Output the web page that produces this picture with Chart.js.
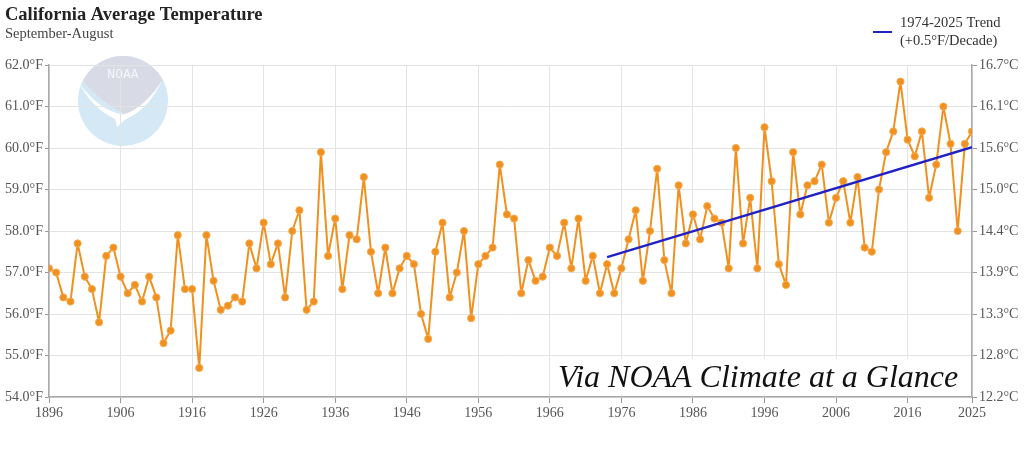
<!DOCTYPE html>
<html>
<head>
<meta charset="utf-8">
<script src="https://cdn.jsdelivr.net/npm/chart.js@4.4.1/dist/chart.umd.min.js"></script>
<style>
  html, body { margin: 0; padding: 0; background: #fff; }
  #wrap { width: 1024px; height: 457px; }
</style>
</head>
<body>
<div id="wrap"><canvas id="tempChart" width="1024" height="457"></canvas></div>
<script>
// annual Sep-Aug average, °F
const firstYear = 1896;
const tempValues = [
  57.1, 57.0, 56.4, 56.3, 57.7, 56.9, 56.6, 55.8, 57.4, 57.6, // 1896-1905
  56.9, 56.5, 56.7, 56.3, 56.9, 56.4, 55.3, 55.6, 57.9, 56.6, // 1906-1915
  56.6, 54.7, 57.9, 56.8, 56.1, 56.2, 56.4, 56.3, 57.7, 57.1, // 1916-1925
  58.2, 57.2, 57.7, 56.4, 58.0, 58.5, 56.1, 56.3, 59.9, 57.4, // 1926-1935
  58.3, 56.6, 57.9, 57.8, 59.3, 57.5, 56.5, 57.6, 56.5, 57.1, // 1936-1945
  57.4, 57.2, 56.0, 55.4, 57.5, 58.2, 56.4, 57.0, 58.0, 55.9, // 1946-1955
  57.2, 57.4, 57.6, 59.6, 58.4, 58.3, 56.5, 57.3, 56.8, 56.9, // 1956-1965
  57.6, 57.4, 58.2, 57.1, 58.3, 56.8, 57.4, 56.5, 57.2, 56.5, // 1966-1975
  57.1, 57.8, 58.5, 56.8, 58.0, 59.5, 57.3, 56.5, 59.1, 57.7, // 1976-1985
  58.4, 57.8, 58.6, 58.3, 58.2, 57.1, 60.0, 57.7, 58.8, 57.1, // 1986-1995
  60.5, 59.2, 57.2, 56.7, 59.9, 58.4, 59.1, 59.2, 59.6, 58.2, // 1996-2005
  58.8, 59.2, 58.2, 59.3, 57.6, 57.5, 59.0, 59.9, 60.4, 61.6, // 2006-2015
  60.2, 59.8, 60.4, 58.8, 59.6, 61.0, 60.1, 58.0, 60.1, 60.4  // 2016-2025
];
const years = tempValues.map((v, i) => firstYear + i);

// linear trend 1974-2025 (+0.5°F/decade)
const trendYears = [1974, 2025];
const trendValues = [57.37, 60.02];

// axis ticks
const xTickYears = [1896, 1906, 1916, 1926, 1936, 1946, 1956, 1966, 1976, 1986, 1996, 2006, 2016, 2025];
const yMinF = 54;
const yMaxF = 62;

const SERIF = "'Liberation Serif', 'Times New Roman', serif";
const ORANGE = '#f0901e';
const BLUE = '#2222c4';

const toC = f => ((f - 32) * 5 / 9).toFixed(1) + '°C';

// NOAA logo watermark, drawn before the grid so the grid shows through
const noaaLogoPlugin = {
    id: 'noaaLogo',
    beforeDraw: (chart) => {
        const ctx = chart.ctx;
        const cx = 123, cy = 101, r = 45;
        ctx.save();
        ctx.beginPath();
        ctx.arc(cx, cy, r, 0, Math.PI * 2);
        ctx.fillStyle = '#d5e8f6';
        ctx.fill();
        ctx.clip();
        // upper grey shield
        ctx.beginPath();
        ctx.moveTo(cx - 46, cy - 46);
        ctx.lineTo(cx + 46, cy - 46);
        ctx.lineTo(cx + 40, cy - 20);
        ctx.quadraticCurveTo(cx + 24, cy + 2, cx + 4, cy + 14);
        ctx.quadraticCurveTo(cx - 22, cy + 2, cx - 40, cy - 20);
        ctx.closePath();
        ctx.fillStyle = '#d8dbe6';
        ctx.fill();
        // white gull
        ctx.beginPath();
        ctx.moveTo(cx - 44, cy - 18);
        ctx.quadraticCurveTo(cx - 24, cy + 10, cx + 2, cy + 14);
        ctx.quadraticCurveTo(cx + 24, cy + 4, cx + 40, cy - 22);
        ctx.quadraticCurveTo(cx + 24, cy + 12, cx - 2, cy + 20);
        ctx.quadraticCurveTo(cx - 28, cy + 12, cx - 44, cy - 18);
        ctx.fillStyle = '#ffffff';
        ctx.fill();
        ctx.beginPath();
        ctx.moveTo(cx - 8, cy + 17);
        ctx.lineTo(cx + 14, cy + 8);
        ctx.lineTo(cx - 6, cy + 26);
        ctx.closePath();
        ctx.fill();
        ctx.fillStyle = '#f4f6fa';
        ctx.font = '13px "DejaVu Sans Mono", monospace';
        ctx.textAlign = 'center';
        ctx.textBaseline = 'middle';
        ctx.fillText('NOAA', cx, cy - 26);
        ctx.restore();
    }
};

// title, subtitle, legend and the "Via NOAA" caption
const headerPlugin = {
    id: 'header',
    afterDraw: (chart) => {
        const ctx = chart.ctx;
        ctx.save();
        ctx.textAlign = 'left';
        ctx.textBaseline = 'alphabetic';
        ctx.fillStyle = '#222';
        ctx.font = 'bold 18.5px ' + SERIF;
        ctx.fillText('California Average Temperature', 5, 20);
        ctx.fillStyle = '#444';
        ctx.font = '14.5px ' + SERIF;
        ctx.fillText('September-August', 5, 38);

        // legend
        ctx.strokeStyle = BLUE;
        ctx.lineWidth = 2;
        ctx.beginPath();
        ctx.moveTo(873, 32);
        ctx.lineTo(892, 32);
        ctx.stroke();
        ctx.fillStyle = '#333';
        ctx.font = '14.5px ' + SERIF;
        ctx.textBaseline = 'middle';
        ctx.fillText('1974-2025 Trend', 900, 23);
        ctx.fillText('(+0.5°F/Decade)', 900, 41);

        // caption box
        const cap = 'Via NOAA Climate at a Glance';
        ctx.font = 'italic 33px ' + SERIF;
        const w = ctx.measureText(cap).width;
        const size = 33 * 400 / w;
        ctx.font = 'italic ' + size.toFixed(1) + 'px ' + SERIF;
        ctx.fillStyle = '#fff';
        ctx.fillRect(555, 359, 410, 36);
        ctx.fillStyle = '#111';
        ctx.textBaseline = 'alphabetic';
        ctx.fillText(cap, 558, 387);
        ctx.restore();
    }
};

const tickFont = { family: SERIF, size: 14 };

new Chart(document.getElementById('tempChart').getContext('2d'), {
    type: 'line',
    data: {
        datasets: [
            {
                label: 'California',
                data: years.map((yr, i) => ({ x: yr, y: tempValues[i] })),
                borderColor: ORANGE,
                backgroundColor: ORANGE,
                borderWidth: 2,
                borderJoinStyle: 'round',
                pointRadius: 3.6,
                pointBorderWidth: 1,
                pointBorderColor: '#f5ab55',
                pointBackgroundColor: ORANGE,
                tension: 0,
                yAxisID: 'y',
                order: 2
            },
            {
                label: '1974-2025 Trend',
                data: trendYears.map((yr, i) => ({ x: yr, y: trendValues[i] })),
                borderColor: BLUE,
                borderWidth: 2.5,
                pointRadius: 0,
                yAxisID: 'y',
                order: 1
            }
        ]
    },
    options: {
        responsive: false,
        animation: false,
        layout: { padding: { top: 65, left: 0, right: 0, bottom: 0 } },
        plugins: {
            legend: { display: false },
            tooltip: { enabled: false }
        },
        scales: {
            x: {
                type: 'linear',
                min: 1896,
                max: 2025,
                afterBuildTicks: (scale) => { scale.ticks = xTickYears.map(v => ({ value: v })); },
                afterFit: (scale) => { scale.height = 60; },
                ticks: {
                    font: tickFont,
                    color: '#555',
                    padding: 2,
                    maxRotation: 0,
                    autoSkip: false,
                    callback: v => String(v)
                },
                grid: { color: '#e3e3e3', tickColor: '#999', tickLength: 6 },
                border: { color: '#aaa', width: 1.5 }
            },
            y: {
                position: 'left',
                min: yMinF,
                max: yMaxF,
                afterFit: (scale) => { scale.width = 49; },
                ticks: {
                    stepSize: 1,
                    font: tickFont,
                    color: '#555',
                    padding: 2,
                    callback: v => v.toFixed(1) + '°F'
                },
                grid: { color: '#e3e3e3', tickColor: '#999', tickLength: 4 },
                border: { color: '#aaa', width: 1.5 }
            },
            y2: {
                position: 'right',
                min: yMinF,
                max: yMaxF,
                afterFit: (scale) => { scale.width = 52; },
                ticks: {
                    stepSize: 1,
                    font: tickFont,
                    color: '#555',
                    padding: 2,
                    callback: v => toC(v)
                },
                grid: { drawOnChartArea: false, tickColor: '#999', tickLength: 5 },
                border: { color: '#aaa', width: 1.5 }
            }
        }
    },
    plugins: [noaaLogoPlugin, headerPlugin]
});
</script>
</body>
</html>
